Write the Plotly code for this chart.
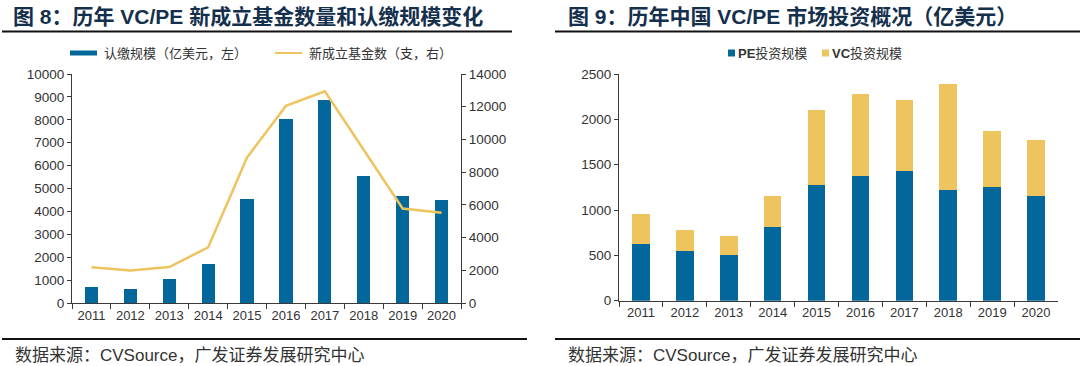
import plotly.graph_objects as go

# ---------------- data ----------------
years = ["2011", "2012", "2013", "2014", "2015", "2016", "2017", "2018", "2019", "2020"]
# Figure 8
commit_scale = [710, 600, 1030, 1700, 4520, 8020, 8860, 5530, 4670, 4510]      # 认缴规模（亿美元，左）
new_funds = [2180, 1980, 2200, 3400, 8900, 12050, 12940, 9400, 5780, 5520]     # 新成立基金数（支，右）
# Figure 9
pe_invest = [625, 550, 507, 809, 1279, 1378, 1427, 1217, 1257, 1155]           # PE投资规模
vc_invest = [328, 226, 210, 349, 821, 905, 783, 1169, 614, 614]                # VC投资规模

left_ticks = list(range(0, 10001, 1000))
right_ticks = list(range(0, 14001, 2000))
fig9_ticks = list(range(0, 2501, 500))

title8 = "图 8：历年 VC/PE 新成立基金数量和认缴规模变化"
title9 = "图 9：历年中国 VC/PE 市场投资概况（亿美元）"
source = "数据来源：CVSource，广发证券发展研究中心"

# ---------------- style ----------------
W, H = 1080, 366
BLUE = "#03679B"
GOLD = "#EDC45D"
AX = "#3a3a3a"
TXT = "#333333"
FONT = "Liberation Sans, Noto Sans CJK SC, sans-serif"


def px(x):
    return x / W


def py(y):
    return 1 - y / H


fig = go.Figure()

fig.add_trace(go.Bar(x=years, y=commit_scale, name="认缴规模（亿美元，左）",
                     marker=dict(color=BLUE, line=dict(width=0)), width=0.34,
                     xaxis="x", yaxis="y", showlegend=False))
fig.add_trace(go.Scatter(x=years, y=new_funds, name="新成立基金数（支，右）", mode="lines",
                         line=dict(color=GOLD, width=2.5),
                         xaxis="x", yaxis="y2", showlegend=False))
fig.add_trace(go.Bar(x=years, y=pe_invest, name="PE投资规模",
                     marker=dict(color=BLUE, line=dict(width=0)), width=0.40,
                     xaxis="x2", yaxis="y3", showlegend=False))
fig.add_trace(go.Bar(x=years, y=vc_invest, name="VC投资规模",
                     marker=dict(color=GOLD, line=dict(width=0)), width=0.40,
                     xaxis="x2", yaxis="y3", showlegend=False))

common_x = dict(type="category", tickson="boundaries", ticks="outside", ticklen=5,
                tickcolor=AX, showline=True, linecolor=AX, linewidth=1,
                showgrid=False, zeroline=False, range=[-0.5, 9.5], automargin=False,
                tickfont=dict(family=FONT, size=13, color=TXT), fixedrange=True)
common_y = dict(ticks="outside", ticklen=4, tickcolor=AX, showline=True, linecolor=AX,
                linewidth=1, showgrid=False, zeroline=False, automargin=False,
                tickformat="d",
                tickfont=dict(family=FONT, size=13.5, color=TXT), fixedrange=True)

fig.update_layout(
    width=W, height=H,
    margin=dict(l=0, r=0, t=0, b=0, pad=0, autoexpand=False),
    paper_bgcolor="white", plot_bgcolor="rgba(0,0,0,0)",
    barmode="stack",
    showlegend=False,
    hovermode=False,
    xaxis=dict(domain=[px(72), px(461)], anchor="y", **common_x),
    yaxis=dict(domain=[py(303), py(74)], range=[0, 10000], tickvals=left_ticks,
               anchor="x", **common_y),
    yaxis2=dict(domain=[py(303), py(74)], range=[0, 14000], tickvals=right_ticks,
                overlaying="y", side="right", anchor="x", **common_y),
    xaxis2=dict(domain=[px(619), px(1058)], anchor="y3", **common_x),
    yaxis3=dict(domain=[py(300.7), py(74)], range=[0, 2500], tickvals=fig9_ticks,
                anchor="x2", **common_y),
)

ann = []
# titles
ann.append(dict(text=title8, x=px(11), y=py(16), xanchor="left", yanchor="middle",
                showarrow=False, xref="paper", yref="paper",
                font=dict(family=FONT, size=21, color="#15304D", weight="bold")))
ann.append(dict(text=title9, x=px(566), y=py(16), xanchor="left", yanchor="middle",
                showarrow=False, xref="paper", yref="paper",
                font=dict(family=FONT, size=21, color="#15304D", weight="bold")))
# sources
for x0 in (13, 566):
    ann.append(dict(text=source, x=px(x0), y=py(355), xanchor="left", yanchor="middle",
                    showarrow=False, xref="paper", yref="paper",
                    font=dict(family=FONT, size=17, color=TXT)))
# legend texts
leg_font = dict(family=FONT, size=13, color=TXT)
ann.append(dict(text="认缴规模（亿美元，左）", x=px(102), y=py(53), xanchor="left", yanchor="middle",
                showarrow=False, xref="paper", yref="paper", font=leg_font))
ann.append(dict(text="新成立基金数（支，右）", x=px(307), y=py(53), xanchor="left", yanchor="middle",
                showarrow=False, xref="paper", yref="paper", font=leg_font))
ann.append(dict(text="<b>PE</b>投资规模", x=px(736), y=py(53), xanchor="left", yanchor="middle",
                showarrow=False, xref="paper", yref="paper", font=leg_font))
ann.append(dict(text="<b>VC</b>投资规模", x=px(830), y=py(53), xanchor="left", yanchor="middle",
                showarrow=False, xref="paper", yref="paper", font=leg_font))

shapes = []
# horizontal rules
for (x0, x1, y) in [(2, 512, 31.5), (555, 1080, 31.5), (2, 527, 339), (555, 1080, 339)]:
    shapes.append(dict(type="line", xref="paper", yref="paper", x0=px(x0), x1=px(x1),
                       y0=py(y), y1=py(y), line=dict(color="#111111", width=2)))
# legend swatches
shapes.append(dict(type="rect", xref="paper", yref="paper", x0=px(70), x1=px(97),
                   y0=py(55.5), y1=py(50.5), fillcolor=BLUE, line=dict(width=0)))
shapes.append(dict(type="line", xref="paper", yref="paper", x0=px(275), x1=px(302),
                   y0=py(53), y1=py(53), line=dict(color=GOLD, width=2)))
shapes.append(dict(type="rect", xref="paper", yref="paper", x0=px(728), x1=px(735),
                   y0=py(56.5), y1=py(49.5), fillcolor=BLUE, line=dict(width=0)))
shapes.append(dict(type="rect", xref="paper", yref="paper", x0=px(822), x1=px(829),
                   y0=py(56.5), y1=py(49.5), fillcolor=GOLD, line=dict(width=0)))

fig.update_layout(annotations=ann, shapes=shapes)

fig.write_html(
    "out.html",
    config={"displayModeBar": False, "staticPlot": True},
    post_script="document.body.style.margin='0';document.body.style.overflow='hidden';",
)
